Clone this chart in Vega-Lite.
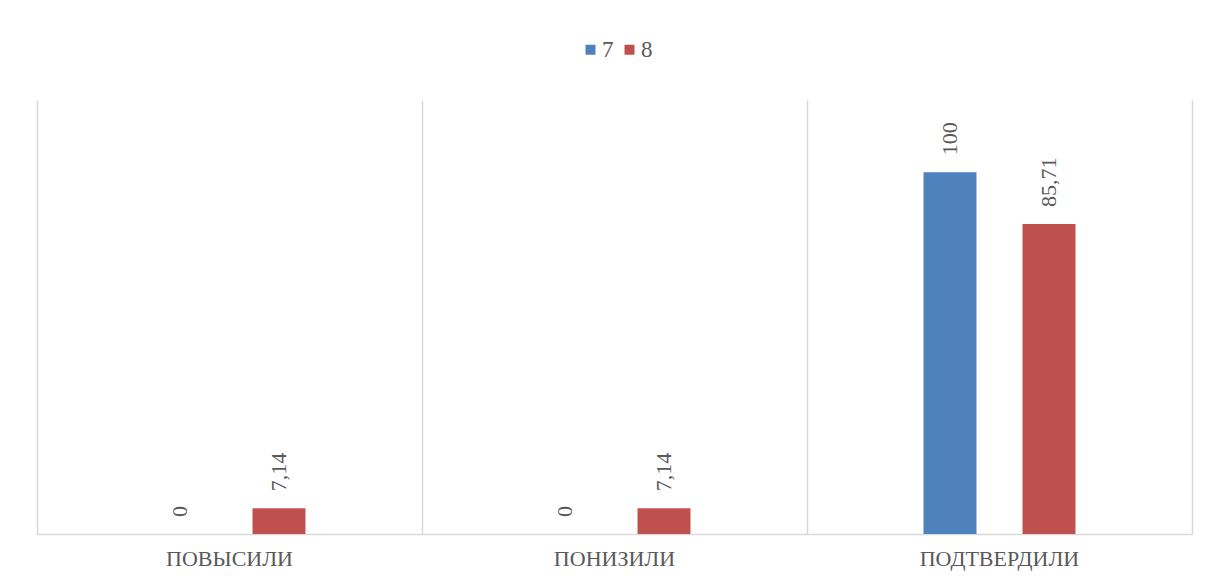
{
  "$schema": "https://vega.github.io/schema/vega-lite/v6.json",
  "autosize": {"type": "none"},
  "width": 1155,
  "height": 434,
  "padding": {"left": 37, "top": 100, "right": 16, "bottom": 49},
  "background": "#ffffff",
  "config": {
    "view": {"stroke": null},
    "locale": {"number": {"decimal": ",", "thousands": " ", "grouping": [3], "currency": ["", " ₽"]}}
  },
  "data": {
    "values": [
      {"cat": "ПОВЫСИЛИ", "series": "7", "value": 0},
      {"cat": "ПОВЫСИЛИ", "series": "8", "value": 7.14},
      {"cat": "ПОНИЗИЛИ", "series": "7", "value": 0},
      {"cat": "ПОНИЗИЛИ", "series": "8", "value": 7.14},
      {"cat": "ПОДТВЕРДИЛИ", "series": "7", "value": 100},
      {"cat": "ПОДТВЕРДИЛИ", "series": "8", "value": 85.71}
    ]
  },
  "encoding": {
    "x": {
      "field": "cat", "type": "nominal", "sort": null,
      "scale": {"paddingInner": 0, "paddingOuter": 0},
      "axis": {
        "title": null, "bandPosition": 0, "grid": true, "gridColor": "#d9d9d9", "gridWidth": 1.5,
        "domain": true, "domainColor": "#d9d9d9", "domainWidth": 1.5, "ticks": false,
        "labelAngle": 0, "labelFont": "Liberation Serif", "labelFontSize": 22, "labelColor": "#595959",
        "labelPadding": 14
      }
    },
    "xOffset": {
      "field": "series", "type": "nominal",
      "scale": {"domain": ["_a", "7", "8", "_b"], "paddingInner": 0.465, "paddingOuter": 0.177}
    },
    "y": {
      "field": "value", "type": "quantitative",
      "scale": {"domain": [0, 120], "nice": false},
      "axis": {
        "orient": "right", "title": null, "labels": false, "ticks": false, "grid": false,
        "domain": true, "domainColor": "#d9d9d9", "domainWidth": 1.5
      }
    }
  },
  "layer": [
    {
      "mark": {"type": "bar"},
      "encoding": {
        "color": {
          "field": "series", "type": "nominal",
          "scale": {"domain": ["7", "8"], "range": ["#4F81BD", "#C0504D"]},
          "legend": {
            "orient": "none", "legendX": 542, "legendY": -62, "direction": "horizontal",
            "title": null, "symbolType": "square", "symbolSize": 100, "symbolStrokeWidth": 0,
            "labelFont": "Liberation Serif", "labelFontSize": 23, "labelColor": "#595959",
            "labelOffset": 0, "columnPadding": 4, "padding": 0
          }
        }
      }
    },
    {
      "mark": {
        "type": "text", "angle": 270, "align": "left", "baseline": "middle", "dx": 17,
        "font": "Liberation Serif", "fontSize": 22, "color": "#595959"
      },
      "encoding": {
        "text": {"field": "value", "type": "quantitative", "format": ".2~f"}
      }
    }
  ]
}
